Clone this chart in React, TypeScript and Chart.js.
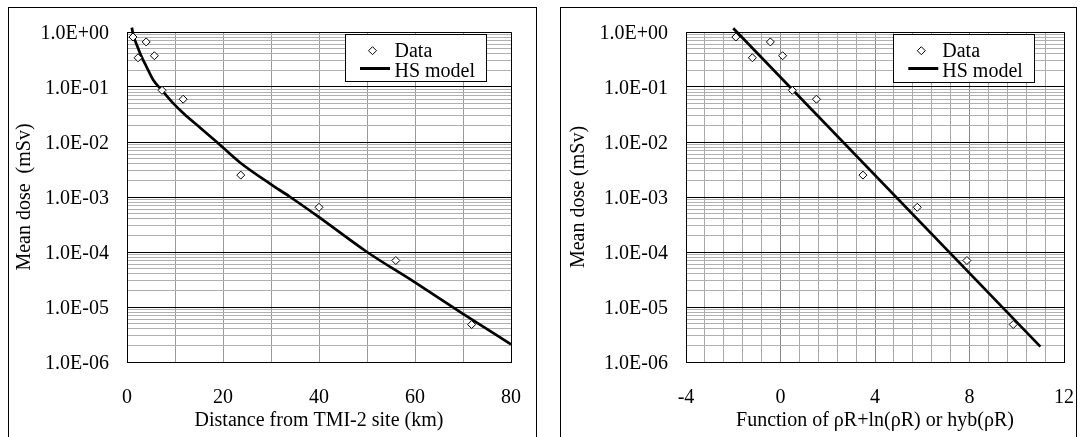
import React, { useEffect, useRef } from 'react';
import { Chart, registerables } from 'chart.js';

Chart.register(...registerables);

const FONT = "'Liberation Serif', 'Times New Roman', serif";

// ---- Data ----
const doseValues = [0.81, 0.34, 0.66, 0.37, 0.087, 0.06, 0.0025, 0.00065, 0.00007, 0.0000048];
const distanceKm = [1.25, 2.3, 4.0, 5.7, 7.3, 11.7, 23.7, 40.0, 56.0, 71.8];
const funcValues = [-1.89, -1.19, -0.43, 0.09, 0.5, 1.52, 3.49, 5.79, 7.89, 9.85];

const modelDistKm = [1.0, 1.4, 1.8, 3.0, 4.0, 5.5, 7.3, 9.7, 11.8, 15.3, 18.7, 23.6, 30, 34, 40, 50, 60, 70, 80];
const modelDistDose = [1.2, 0.81, 0.66, 0.36, 0.24, 0.133, 0.087, 0.05, 0.033, 0.018, 0.01, 0.0042, 0.0017, 0.001, 0.00043, 0.0001, 0.000028, 0.0000075, 0.0000021];

const modelFunc = [-2.0, 11.0];
const modelFuncDose = [1.17, 0.0000019];

const seriesLabels = ['Data', 'HS model'];

// ---- Axis ticks ----
const yDecades = [1e-6, 1e-5, 1e-4, 1e-3, 1e-2, 1e-1, 1];
const yTickLabels = ['1.0E-06', '1.0E-05', '1.0E-04', '1.0E-03', '1.0E-02', '1.0E-01', '1.0E+00'];
const leftXTicks = [0, 20, 40, 60, 80];
const leftXTickLabels = ['0', '20', '40', '60', '80'];
const rightXTicks = [-4, 0, 4, 8, 12];
const rightXTickLabels = ['-4', '0', '4', '8', '12'];

const leftTitles = { x: 'Distance from TMI-2 site (km)', y: 'Mean dose  (mSv)' };
const rightTitles = { x: 'Function of \u03c1R+ln(\u03c1R) or hyb(\u03c1R)', y: 'Mean dose (mSv)' };

// grid helpers
function yGridValues(): number[] {
  const out: number[] = [];
  for (let i = 0; i < yDecades.length - 1; i++) {
    for (let k = 1; k <= 9; k++) out.push(Number((yDecades[i] * k).toPrecision(3)));
  }
  out.push(yDecades[yDecades.length - 1]);
  return out;
}
function isDecade(v: number) {
  return yDecades.some((d) => Math.abs(d - v) / d < 1e-6);
}
function linearGrid(min: number, max: number, step: number): number[] {
  const n = Math.round((max - min) / step);
  const out: number[] = [];
  for (let i = 0; i <= n; i++) out.push(Number((min + i * step).toFixed(4)));
  return out;
}
function labelFor(v: number, ticks: number[], labels: string[]) {
  const i = ticks.findIndex((t) => Math.abs(t - v) < 1e-6);
  return i >= 0 ? labels[i] : '';
}

const boxLegend = {
  id: 'boxLegend',
  afterDraw(chart: any, _args: any, opts: any) {
    const { ctx, chartArea } = chart;
    const w = opts.width, h = opts.height;
    const x0 = Math.round(chartArea.right - opts.right - w);
    const y0 = Math.round(chartArea.top + opts.top);
    ctx.save();
    ctx.fillStyle = '#fff';
    ctx.fillRect(x0, y0, w, h);
    ctx.strokeStyle = '#000';
    ctx.lineWidth = 1;
    ctx.strokeRect(x0 + 0.5, y0 + 0.5, w - 1, h - 1);
    // diamond
    const cx = x0 + opts.markerX, cy = y0 + 16.7, r = 4;
    ctx.beginPath();
    ctx.moveTo(cx - r, cy);
    ctx.lineTo(cx, cy - r);
    ctx.lineTo(cx + r, cy);
    ctx.lineTo(cx, cy + r);
    ctx.closePath();
    ctx.fillStyle = '#fff';
    ctx.fill();
    ctx.stroke();
    // line
    ctx.beginPath();
    ctx.lineWidth = 3;
    ctx.moveTo(x0 + opts.lineX0, y0 + 34.5);
    ctx.lineTo(x0 + opts.lineX1, y0 + 34.5);
    ctx.stroke();
    // text
    ctx.fillStyle = '#000';
    ctx.font = `20px ${FONT}`;
    ctx.textBaseline = 'alphabetic';
    ctx.textAlign = 'left';
    ctx.fillText(chart.data.datasets[0].label, x0 + opts.textX, y0 + 22.7);
    ctx.fillText(chart.data.datasets[1].label, x0 + opts.textX, y0 + 43.3);
    ctx.restore();
  },
};

const plotFrame = {
  id: 'plotFrame',
  beforeDatasetsDraw(chart: any) {
    const { ctx, chartArea: a } = chart;
    const top = Math.round(a.top - 0.5) + 0.5;
    const right = Math.round(a.right - 0.5) + 0.5;
    ctx.save();
    ctx.strokeStyle = '#000';
    ctx.lineWidth = 1;
    ctx.beginPath();
    ctx.moveTo(a.left, top);
    ctx.lineTo(right, top);
    ctx.lineTo(right, a.bottom);
    ctx.stroke();
    ctx.restore();
  },
};

type PanelCfg = {
  xs: number[];
  ys: number[];
  mx: number[];
  my: number[];
  xMin: number;
  xMax: number;
  xStep: number;
  xTicks: number[];
  xLabels: string[];
  titles: { x: string; y: string };
  yWidth: number;
  padRight: number;
  yTitlePad: number;
  legend: any;
  smooth: boolean;
  xGridColor: (v: number) => string;
};

function buildChart(canvas: HTMLCanvasElement, c: PanelCfg) {
  const yGrid = yGridValues();
  const xGrid = linearGrid(c.xMin, c.xMax, c.xStep);
  return new Chart(canvas, {
    type: 'scatter',
    data: {
      datasets: [
        {
          label: seriesLabels[0],
          data: c.xs.map((x, i) => ({ x, y: c.ys[i] })),
          pointStyle: 'rectRot',
          pointRadius: 4,
          pointBorderWidth: 1,
          pointBorderColor: '#000',
          pointBackgroundColor: '#fff',
          showLine: false,
        },
        {
          label: seriesLabels[1],
          data: c.mx.map((x, i) => ({ x, y: c.my[i] })),
          showLine: true,
          pointRadius: 0,
          borderColor: '#000',
          borderWidth: 2.7,
          cubicInterpolationMode: c.smooth ? 'monotone' : 'default',
          tension: 0,
          clip: false,
        },
      ],
    } as any,
    options: {
      responsive: false,
      animation: false,
      devicePixelRatio: 1,
      events: [],
      layout: { padding: { left: 0, right: c.padRight, top: 25, bottom: 0 } },
      plugins: {
        legend: { display: false },
        tooltip: { enabled: false },
        boxLegend: c.legend,
      } as any,
      scales: {
        x: {
          type: 'linear',
          min: c.xMin,
          max: c.xMax,
          afterBuildTicks: (scale: any) => {
            scale.ticks = xGrid.map((v) => ({ value: v }));
          },
          afterFit: (scale: any) => {
            scale.height = 75;
            scale.paddingLeft = 0;
            scale.paddingRight = 0;
            scale.paddingTop = 0;
            scale.paddingBottom = 0;
          },
          ticks: {
            autoSkip: false,
            maxRotation: 0,
            padding: 23.5,
            color: '#000',
            font: { family: FONT, size: 20 },
            callback: (v: any) => labelFor(Number(v), c.xTicks, c.xLabels),
          },
          grid: {
            drawTicks: false,
            color: (ctx: any) => c.xGridColor(ctx.tick ? ctx.tick.value : 0),
            lineWidth: 1,
          },
          border: { display: true, color: '#000', width: 1 },
          title: {
            display: true,
            text: c.titles.x,
            color: '#000',
            font: { family: FONT, size: 20 },
            padding: { top: 0, bottom: 4 },
          },
        },
        y: {
          type: 'logarithmic',
          min: 1e-6,
          max: 1,
          afterBuildTicks: (scale: any) => {
            scale.ticks = yGrid.map((v) => ({ value: v, major: isDecade(v) }));
          },
          afterFit: (scale: any) => {
            scale.width = c.yWidth;
            scale.paddingLeft = 0;
            scale.paddingRight = 0;
            scale.paddingTop = 0;
            scale.paddingBottom = 0;
          },
          ticks: {
            autoSkip: false,
            padding: 18,
            labelOffset: 2,
            color: '#000',
            font: { family: FONT, size: 20 },
            callback: (v: any) => {
              const i = yDecades.findIndex((d) => Math.abs(d - Number(v)) / d < 1e-6);
              return i >= 0 ? yTickLabels[i] : '';
            },
          },
          grid: {
            drawTicks: false,
            color: (ctx: any) => (ctx.tick && isDecade(ctx.tick.value) ? '#000' : '#b0b0b0'),
            lineWidth: 1,
          },
          border: { display: true, color: '#000', width: 1 },
          title: {
            display: true,
            text: c.titles.y,
            color: '#000',
            font: { family: FONT, size: 20 },
            padding: { top: c.yTitlePad, bottom: 0 },
          },
        },
      },
    } as any,
    plugins: [plotFrame, boxLegend],
  });
}

function Panel(props: { cfg: PanelCfg; frame: any; canvasPos: any }) {
  const ref = useRef<HTMLCanvasElement | null>(null);
  useEffect(() => {
    if (!ref.current) return;
    const chart = buildChart(ref.current, props.cfg);
    return () => chart.destroy();
  }, []);
  const cp = props.canvasPos;
  return (
    <>
      <div
        style={{
          position: 'absolute',
          boxSizing: 'border-box',
          border: '1px solid #000',
          background: '#fff',
          ...props.frame,
        }}
      />
      <canvas
        ref={ref}
        width={cp.width}
        height={cp.height}
        style={{ position: 'absolute', left: cp.left, top: cp.top, width: cp.width, height: cp.height }}
      />
    </>
  );
}

const leftCfg: PanelCfg = {
  xs: distanceKm,
  ys: doseValues,
  mx: modelDistKm,
  my: modelDistDose,
  xMin: 0,
  xMax: 80,
  xStep: 10,
  xTicks: leftXTicks,
  xLabels: leftXTickLabels,
  titles: leftTitles,
  yWidth: 119,
  padRight: 26,
  yTitlePad: 5,
  legend: { right: 24, top: 2, width: 142, height: 48, markerX: 27.5, lineX0: 15, lineX1: 45, textX: 49.5 },
  smooth: true,
  xGridColor: () => '#9a9a9a',
};

const rightCfg: PanelCfg = {
  xs: funcValues,
  ys: doseValues,
  mx: modelFunc,
  my: modelFuncDose,
  xMin: -4,
  xMax: 12,
  xStep: 0.8,
  xTicks: rightXTicks,
  xLabels: rightXTickLabels,
  titles: rightTitles,
  yWidth: 125,
  padRight: 17,
  yTitlePad: 6,
  legend: { right: 29, top: 2, width: 142, height: 49, markerX: 28.3, lineX0: 15.3, lineX1: 45.3, textX: 49.3 },
  smooth: false,
  xGridColor: (v: number) => (Math.abs(v % 4) < 1e-6 ? '#888' : '#a8a8a8'),
};

export default function App() {
  return (
    <div style={{ position: 'fixed', left: 0, top: 0, width: 1084, height: 437, overflow: 'hidden', background: '#fff' }}>
      <Panel
        cfg={leftCfg}
        frame={{ left: 8, top: 7, width: 529, height: 440 }}
        canvasPos={{ left: 8, top: 7, width: 529, height: 430 }}
      />
      <Panel
        cfg={rightCfg}
        frame={{ left: 560, top: 7, width: 517, height: 440 }}
        canvasPos={{ left: 561, top: 7, width: 520, height: 430 }}
      />
    </div>
  );
}
